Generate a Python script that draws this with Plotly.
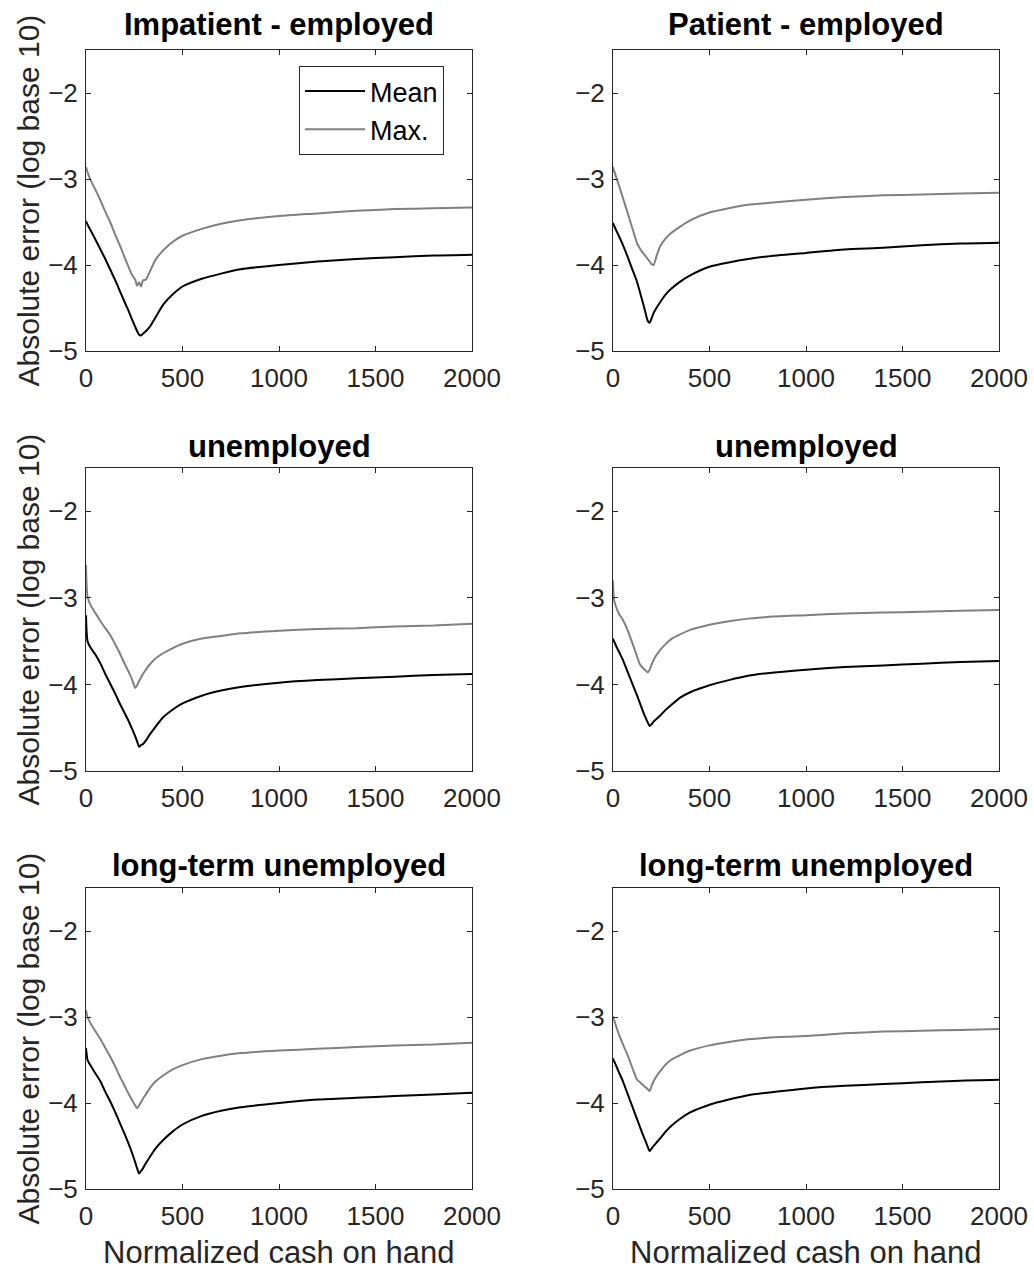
import plotly.graph_objects as go

# Cash-on-hand grids (left column: impatient agents, right column: patient agents)
x_left = [0, 8, 25, 50, 75, 100, 125, 150, 175, 200, 220, 240, 255, 265, 275, 285,
          295, 310, 330, 360, 400, 450, 500, 600, 700, 800, 1000, 1200, 1400, 1600,
          1800, 2000]
x_right = [0, 5, 15, 30, 50, 75, 100, 125, 140, 155, 170, 180, 190, 200, 210, 225,
           245, 270, 300, 350, 400, 500, 600, 700, 800, 1000, 1200, 1400, 1600, 1800,
           2000]

# log10 absolute Euler-equation errors
imp_emp_mean = [-3.49, -3.53, -3.60, -3.71, -3.82, -3.93, -4.05, -4.17, -4.30, -4.43,
                -4.53, -4.64, -4.72, -4.77, -4.81, -4.82, -4.80, -4.77, -4.72, -4.61,
                -4.46, -4.34, -4.25, -4.16, -4.10, -4.05, -4.00, -3.96, -3.93, -3.91,
                -3.89, -3.88]
imp_emp_max = [-2.86, -2.92, -3.02, -3.13, -3.25, -3.38, -3.50, -3.64, -3.77, -3.91,
               -4.02, -4.12, -4.17, -4.24, -4.20, -4.25, -4.18, -4.17, -4.08, -3.94,
               -3.83, -3.73, -3.66, -3.58, -3.52, -3.48, -3.43, -3.40, -3.37, -3.35,
               -3.34, -3.33]

imp_unemp_mean = [-3.20, -3.50, -3.58, -3.66, -3.76, -3.88, -3.99, -4.10, -4.22, -4.33,
                  -4.42, -4.52, -4.60, -4.66, -4.72, -4.70, -4.69, -4.65, -4.58, -4.49,
                  -4.38, -4.29, -4.22, -4.13, -4.07, -4.03, -3.98, -3.95, -3.93, -3.91,
                  -3.89, -3.88]
imp_unemp_max = [-2.62, -2.99, -3.09, -3.18, -3.27, -3.35, -3.43, -3.53, -3.64, -3.76,
                 -3.85, -3.95, -4.04, -4.01, -3.96, -3.92, -3.88, -3.83, -3.77, -3.70,
                 -3.64, -3.58, -3.53, -3.47, -3.44, -3.41, -3.38, -3.36, -3.35, -3.33,
                 -3.32, -3.30]

imp_ltu_mean = [-3.36, -3.50, -3.57, -3.66, -3.75, -3.87, -3.98, -4.10, -4.23, -4.36,
                -4.47, -4.59, -4.69, -4.76, -4.82, -4.79, -4.76, -4.70, -4.63, -4.53,
                -4.43, -4.33, -4.25, -4.15, -4.09, -4.05, -4.00, -3.96, -3.94, -3.92,
                -3.90, -3.88]
imp_ltu_max = [-2.92, -3.00, -3.08, -3.17, -3.26, -3.36, -3.46, -3.57, -3.69, -3.80,
               -3.89, -3.97, -4.03, -4.06, -4.03, -3.99, -3.95, -3.90, -3.83, -3.75,
               -3.68, -3.61, -3.56, -3.49, -3.45, -3.42, -3.39, -3.37, -3.35, -3.33,
               -3.32, -3.30]

pat_emp_mean = [-3.51, -3.54, -3.59, -3.66, -3.76, -3.90, -4.05, -4.20, -4.32, -4.44,
                -4.57, -4.65, -4.67, -4.62, -4.56, -4.50, -4.43, -4.35, -4.28, -4.19,
                -4.12, -4.02, -3.97, -3.93, -3.90, -3.86, -3.82, -3.80, -3.77, -3.75,
                -3.74]
pat_emp_max = [-2.86, -2.90, -2.97, -3.07, -3.21, -3.39, -3.57, -3.75, -3.81, -3.86,
               -3.90, -3.93, -3.96, -3.99, -4.00, -3.90, -3.78, -3.70, -3.63, -3.55,
               -3.48, -3.39, -3.34, -3.30, -3.28, -3.24, -3.21, -3.19, -3.18, -3.17,
               -3.16]

pat_unemp_mean = [-3.47, -3.50, -3.55, -3.62, -3.71, -3.85, -3.99, -4.13, -4.22, -4.31,
                  -4.39, -4.44, -4.48, -4.46, -4.43, -4.40, -4.36, -4.30, -4.24, -4.15,
                  -4.09, -4.01, -3.95, -3.90, -3.87, -3.83, -3.80, -3.78, -3.76, -3.74,
                  -3.73]
pat_unemp_max = [-2.80, -3.02, -3.10, -3.18, -3.25, -3.37, -3.52, -3.68, -3.77, -3.81,
                 -3.84, -3.86, -3.83, -3.77, -3.72, -3.66, -3.60, -3.54, -3.48, -3.42,
                 -3.37, -3.31, -3.27, -3.24, -3.22, -3.20, -3.18, -3.17, -3.16, -3.15,
                 -3.14]

pat_ltu_mean = [-3.48, -3.51, -3.56, -3.64, -3.74, -3.89, -4.04, -4.19, -4.28, -4.37,
                -4.45, -4.51, -4.56, -4.53, -4.50, -4.46, -4.41, -4.34, -4.27, -4.18,
                -4.11, -4.02, -3.96, -3.91, -3.88, -3.83, -3.80, -3.78, -3.76, -3.74,
                -3.73]
pat_ltu_max = [-2.99, -3.03, -3.10, -3.20, -3.31, -3.44, -3.59, -3.73, -3.76, -3.79,
               -3.82, -3.84, -3.86, -3.80, -3.75, -3.69, -3.63, -3.56, -3.50, -3.44,
               -3.39, -3.33, -3.29, -3.26, -3.24, -3.22, -3.19, -3.17, -3.16, -3.15,
               -3.14]

panel_titles = ["Impatient - employed", "Patient - employed",
                "unemployed", "unemployed",
                "long-term unemployed", "long-term unemployed"]
y_tick_vals = [-5, -4, -3, -2]
x_tick_vals = [0, 500, 1000, 1500, 2000]

panels = [
    (x_left, imp_emp_mean, imp_emp_max),
    (x_right, pat_emp_mean, pat_emp_max),
    (x_left, imp_unemp_mean, imp_unemp_max),
    (x_right, pat_unemp_mean, pat_unemp_max),
    (x_left, imp_ltu_mean, imp_ltu_max),
    (x_right, pat_ltu_mean, pat_ltu_max),
]

W, H = 1034, 1272
col_px = [(86, 472), (613, 999)]               # plot-area left/right edges
row_px = [(50, 351), (468, 771), (888, 1189)]  # plot-area top/bottom edges
title_px = [25, 446, 865]

FONT = "Liberation Sans, Arial, Helvetica, sans-serif"
AX_COLOR = "#262626"
MEAN_COLOR = "#000000"
MAX_COLOR = "#808080"

fig = go.Figure()
layout = dict(
    template="none",
    width=W, height=H,
    margin=dict(l=0, r=0, t=0, b=0, pad=0),
    paper_bgcolor="white", plot_bgcolor="white",
    font=dict(family=FONT, color=AX_COLOR, size=26),
    showlegend=True,
    legend=dict(
        x=299 / W, y=1 - 66 / H, xanchor="left", yanchor="top",
        bgcolor="white", bordercolor=AX_COLOR, borderwidth=1,
        font=dict(family=FONT, size=27, color="black"),
        itemwidth=60, tracegroupgap=0,
    ),
)
annotations = []

for i, (xs, mean_vals, max_vals) in enumerate(panels):
    r, c = divmod(i, 2)
    k = "" if i == 0 else str(i + 1)
    x0, x1 = col_px[c]
    top, bot = row_px[r]
    fig.add_trace(go.Scatter(
        x=xs, y=mean_vals, mode="lines", name="Mean",
        line=dict(color=MEAN_COLOR, width=2, shape="spline", smoothing=0.6),
        xaxis="x" + k, yaxis="y" + k, showlegend=(i == 0),
    ))
    fig.add_trace(go.Scatter(
        x=xs, y=max_vals, mode="lines", name="Max.",
        line=dict(color=MAX_COLOR, width=2, shape="spline", smoothing=0.6),
        xaxis="x" + k, yaxis="y" + k, showlegend=(i == 0),
    ))
    common = dict(
        showline=True, linecolor=AX_COLOR, linewidth=1, mirror="ticks",
        ticks="inside", ticklen=5, tickcolor=AX_COLOR, tickwidth=1,
        showgrid=False, zeroline=False, fixedrange=True, automargin=False,
        tickfont=dict(family=FONT, size=26, color=AX_COLOR),
    )
    layout["xaxis" + k] = dict(
        common, domain=[x0 / W, x1 / W], range=[0, 2000],
        tickvals=x_tick_vals, anchor="y" + k, ticklabelstandoff=4,
    )
    layout["yaxis" + k] = dict(
        common, domain=[1 - bot / H, 1 - top / H], range=[-5, -1.5],
        tickvals=y_tick_vals, anchor="x" + k, ticklabelstandoff=2,
    )
    annotations.append(dict(
        text="<b>" + panel_titles[i] + "</b>", xref="paper", yref="paper",
        x=(x0 + x1) / 2 / W, y=1 - title_px[r] / H, xanchor="center",
        yanchor="middle", showarrow=False,
        font=dict(family=FONT, size=31, color="black"),
    ))
    if c == 0:
        annotations.append(dict(
            text="Absolute error (log base 10)", xref="paper", yref="paper",
            x=28 / W, y=1 - (top + bot) / 2 / H, xanchor="center",
            yanchor="middle", textangle=-90, showarrow=False,
            font=dict(family=FONT, size=30, color=AX_COLOR),
        ))
    if r == 2:
        annotations.append(dict(
            text="Normalized cash on hand", xref="paper", yref="paper",
            x=(x0 + x1) / 2 / W, y=1 - 1252 / H, xanchor="center",
            yanchor="middle", showarrow=False,
            font=dict(family=FONT, size=31, color=AX_COLOR),
        ))

layout["annotations"] = annotations
fig.update_layout(**layout)
fig.write_html("out.html")
